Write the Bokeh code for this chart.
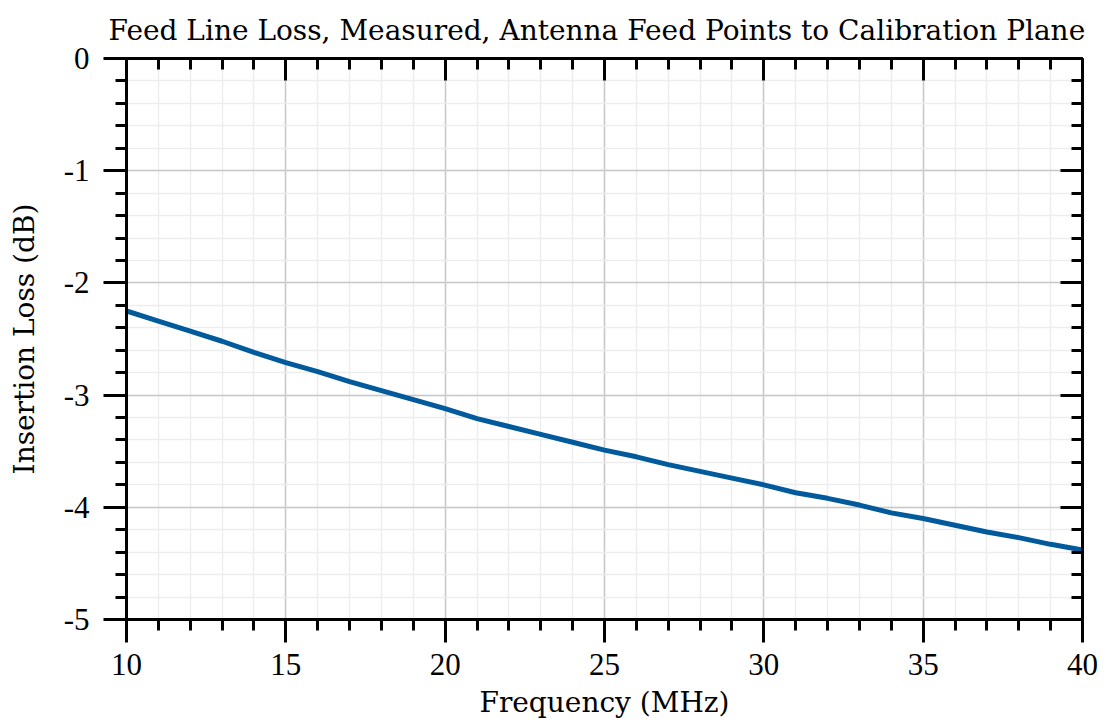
from bokeh.plotting import figure
from bokeh.models import Range1d, LinearAxis, SingleIntervalTicker
from bokeh.embed import file_html
from bokeh.resources import INLINE

# Data
freq_mhz = [10, 11, 12, 13, 14, 15, 16, 17, 18, 19, 20, 21, 22, 23, 24, 25,
            26, 27, 28, 29, 30, 31, 32, 33, 34, 35, 36, 37, 38, 39, 40]
loss_db = [-2.25, -2.34, -2.43, -2.52, -2.62, -2.71, -2.79, -2.88, -2.96, -3.04,
           -3.12, -3.21, -3.28, -3.35, -3.42, -3.49, -3.55, -3.62, -3.68, -3.74,
           -3.80, -3.87, -3.92, -3.98, -4.05, -4.10, -4.16, -4.22, -4.27, -4.33,
           -4.38]
y_tick_values = [0, -1, -2, -3, -4, -5]
y_tick_labels = ["0", "-1", "-2", "-3", "-4", "-5"]
x_tick_values = [10, 15, 20, 25, 30, 35, 40]
x_tick_labels = ["10", "15", "20", "25", "30", "35", "40"]

TICK_FONT = "Liberation Serif"
TEXT_FONT = "DejaVu Serif"

p = figure(width=1107, height=727, output_backend="svg", toolbar_location=None,
           x_range=Range1d(10, 40), y_range=Range1d(-5, 0),
           min_border_left=126, min_border_right=25, min_border_top=58,
           min_border_bottom=108,
           title="Feed Line Loss, Measured, Antenna Feed Points to Calibration Plane")

p.title.text_font = TEXT_FONT
p.title.text_font_size = "28px"
p.title.text_font_style = "normal"
p.title.align = "left"
p.title.offset = -18
p.title.text_color = "black"
p.title.standoff = 23

p.outline_line_color = None
p.background_fill_color = "white"
p.border_fill_color = "white"

xt = SingleIntervalTicker(interval=5, num_minor_ticks=5)
yt = SingleIntervalTicker(interval=1, num_minor_ticks=5)

def style_axis(ax, outside, labels):
    ax.axis_line_width = 3
    ax.axis_line_color = "black"
    ax.major_tick_line_width = 3
    ax.minor_tick_line_width = 3
    ax.major_tick_line_color = "black"
    ax.minor_tick_line_color = "black"
    if outside:
        ax.major_tick_out = 23
        ax.major_tick_in = 0
        ax.minor_tick_out = 11
        ax.minor_tick_in = 0
    else:
        ax.major_tick_out = 0
        ax.major_tick_in = 22
        ax.minor_tick_out = 0
        ax.minor_tick_in = 11
    if labels:
        ax.major_label_text_font = TICK_FONT
        ax.major_label_text_font_size = "31px"
        ax.major_label_text_color = "black"
        ax.axis_label_text_font = TEXT_FONT
        ax.axis_label_text_font_size = "28px"
        ax.axis_label_text_font_style = "normal"
        ax.axis_label_text_color = "black"
    else:
        ax.major_label_text_font_size = "0px"
        ax.major_label_text_alpha = 0

xa = p.xaxis[0]
xa.ticker = xt
xa.major_label_overrides = dict(zip(x_tick_values, x_tick_labels))
xa.axis_label = "Frequency (MHz)"
xa.major_label_standoff = 11
xa.axis_label_standoff = 8
style_axis(xa, True, True)

ya = p.yaxis[0]
ya.ticker = yt
ya.major_label_overrides = dict(zip(y_tick_values, y_tick_labels))
ya.axis_label = "Insertion Loss (dB)"
ya.major_label_standoff = 14
ya.axis_label_standoff = 20
style_axis(ya, True, True)

top = LinearAxis(ticker=SingleIntervalTicker(interval=5, num_minor_ticks=5))
style_axis(top, False, False)
p.add_layout(top, "above")
right = LinearAxis(ticker=SingleIntervalTicker(interval=1, num_minor_ticks=5))
style_axis(right, False, False)
p.add_layout(right, "right")

p.xgrid.ticker = xt
p.ygrid.ticker = yt
for g in (p.xgrid, p.ygrid):
    g.grid_line_color = "#c8c8c8"
    g.grid_line_width = 1.5
    g.minor_grid_line_color = "#ededed"
    g.minor_grid_line_width = 1.5

p.line(freq_mhz, loss_db, line_color="#005a9c", line_width=5)

open("out.html", "w").write(file_html(p, INLINE))
